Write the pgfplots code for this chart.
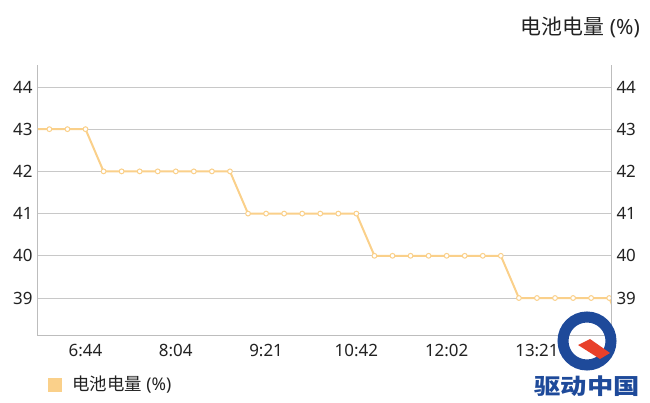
\documentclass[border=0pt]{standalone}
\usepackage{pgfplots}
\pgfplotsset{compat=1.18}
\usepackage{fontspec}
\setmainfont{Noto Sans}
\newfontfamily\cjk{Noto Sans CJK SC}
\definecolor{lineor}{HTML}{FAD08A}
\definecolor{gridc}{HTML}{C8C8C8}
\definecolor{axc}{HTML}{BDBDBD}
\definecolor{txt}{HTML}{222222}
\definecolor{logob}{HTML}{1E4A9A}
\definecolor{logor}{HTML}{E8402A}

\begin{document}
\begin{tikzpicture}
\path[use as bounding box] (0,0) rectangle (650bp,403bp);
\begin{axis}[
 at={(38bp,67bp)}, anchor=south west,
 scale only axis, width=573bp, height=271bp,
 xmin=-0.63, xmax=31.1, ymin=38.1, ymax=44.52,
 axis x line*=bottom, axis y line*=left,
 axis line style={draw=axc, line width=1bp, -},
 xtick={2,7,12,17,22,27},
 xticklabels={6:44,8:04,9:21,10:42,12:02,13:21},
 ytick={39,40,41,42,43,44},
 ymajorgrids, grid style={draw=gridc, line width=0.8bp},
 major tick length=0pt,
 tick label style={font=\fontsize{17}{20}\selectfont, text=txt},
 /pgf/number format/assume math mode=true,
 xticklabel style={yshift=-5bp},
 yticklabel style={xshift=-2bp},
]
\addplot[lineor, line width=2bp, mark=*, mark size=2.4bp,
  mark options={fill=white, draw=lineor, line width=1bp}] coordinates {
(-1,43) (0,43) (1,43) (2,43)
(3,42) (4,42) (5,42) (6,42) (7,42) (8,42) (9,42) (10,42)
(11,41) (12,41) (13,41) (14,41) (15,41) (16,41) (17,41)
(18,40) (19,40) (20,40) (21,40) (22,40) (23,40) (24,40) (25,40)
(26,39) (27,39) (28,39) (29,39) (30,39) (31,39) (32,38)
};
\end{axis}
\begin{axis}[
 at={(38bp,67bp)}, anchor=south west,
 scale only axis, width=573bp, height=271bp,
 xmin=-0.63, xmax=31.1, ymin=38.1, ymax=44.52,
 axis y line*=right, hide x axis,
 axis line style={draw=axc, line width=1bp, -},
 ytick={39,40,41,42,43,44},
 major tick length=0pt,
 tick label style={font=\fontsize{17}{20}\selectfont, text=txt},
 /pgf/number format/assume math mode=true,
 yticklabel style={xshift=2bp},
]
\end{axis}
\node[anchor=east, text=txt, font=\fontsize{21}{24}\selectfont, inner sep=0pt] at (640bp,376bp) {{\cjk 电池电量} (\%)};
\fill[lineor] (48bp,11bp) rectangle (62bp,25bp);
\node[anchor=west, text=txt, font=\fontsize{17.5}{20}\selectfont, inner sep=0pt] at (72bp,18bp) {{\cjk 电池电量} (\%)};
% watermark
\draw[logob, line width=11bp] (587bp,62bp) circle (24bp);
\fill[logor] (578bp,58bp) -- (600bp,44bp) -- (610bp,50bp) -- (590bp,64bp) -- cycle;
\node[text=logob, font=\cjk\bfseries\fontsize{22}{24}\selectfont, xscale=1.2, inner sep=0pt] at (587bp,17bp) {驱动中国};
\end{tikzpicture}
\end{document}
